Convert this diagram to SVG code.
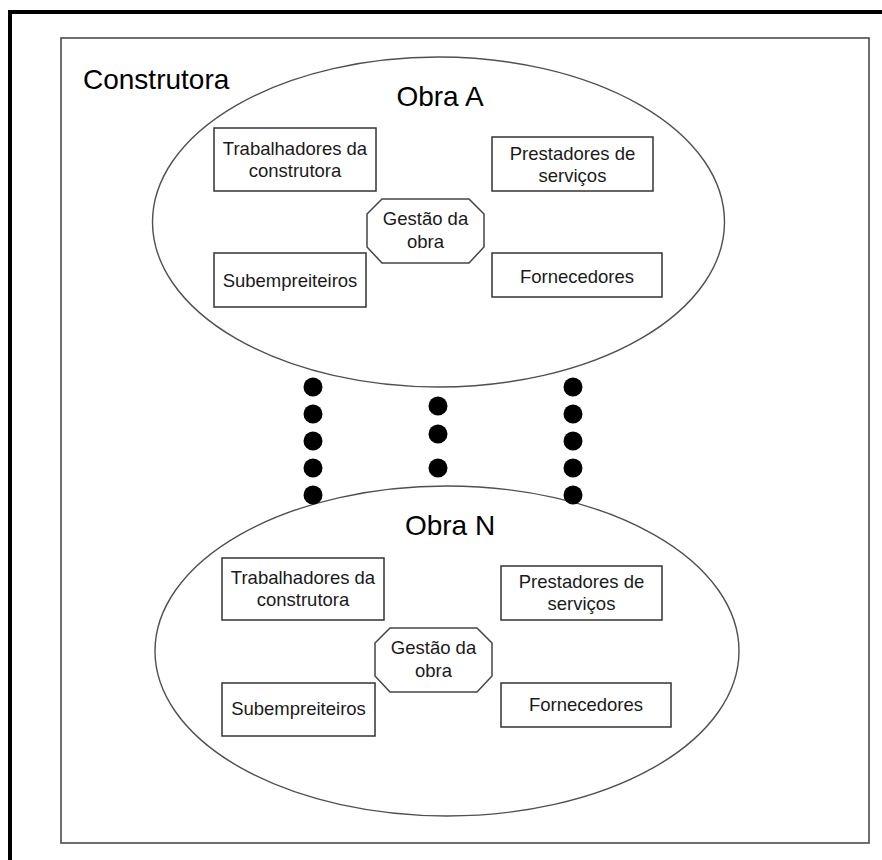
<svg xmlns="http://www.w3.org/2000/svg" width="882" height="860" viewBox="0 0 882 860">
<style>
.frame{fill:none;stroke:#000;stroke-width:4}
.inner{fill:#fff;stroke:#4a4a4a;stroke-width:1.6}
.obra{fill:#fff;stroke:#505050;stroke-width:1.4}
.box{fill:#fff;stroke:#333;stroke-width:1.5}
.oct{fill:#fff;stroke:#444;stroke-width:1.5}
.title{font-family:"Liberation Sans",Arial,sans-serif;font-size:28px;fill:#000}
.lbl{font-family:"Liberation Sans",Arial,sans-serif;font-size:18.5px;fill:#1a1a1a;text-anchor:middle}
.dot{fill:#000}
</style>
<defs>
<polygon id="octA" points="15,0 102,0 117,15 117,48 102,64 15,64 0,48 0,15"/>
</defs>
<rect width="882" height="860" fill="#fff"/>
<path class="frame" d="M10,864 V12 H886"/>
<g id="construtora">
<rect class="inner" x="61" y="38" width="808" height="805"/>
<text class="title" x="83" y="89">Construtora</text>
</g>
<g id="obra-a">
<ellipse class="obra" cx="438.5" cy="222" rx="286" ry="165"/>
<text class="title" x="440" y="106" text-anchor="middle">Obra A</text>
</g>
<g id="a-trabalhadores">
<rect class="box" x="214" y="128" width="162" height="63"/>
<text class="lbl" x="295" y="155">Trabalhadores da</text>
<text class="lbl" x="295" y="177">construtora</text>
</g>
<g id="a-prestadores">
<rect class="box" x="492" y="137" width="161" height="54"/>
<text class="lbl" x="572.5" y="160">Prestadores de</text>
<text class="lbl" x="572.5" y="182">serviços</text>
</g>
<g id="a-gestao">
<use href="#octA" class="oct" x="367" y="199"/>
<text class="lbl" x="425.5" y="225">Gestão da</text>
<text class="lbl" x="425.5" y="248">obra</text>
</g>
<g id="a-subempreiteiros">
<rect class="box" x="214" y="253" width="152" height="54"/>
<text class="lbl" x="290" y="287">Subempreiteiros</text>
</g>
<g id="a-fornecedores">
<rect class="box" x="492" y="253" width="170" height="44"/>
<text class="lbl" x="577" y="283">Fornecedores</text>
</g>
<g id="obra-n">
<ellipse class="obra" cx="447" cy="651" rx="292" ry="165"/>
<text class="title" x="450" y="535" text-anchor="middle">Obra N</text>
</g>
<g id="n-trabalhadores">
<rect class="box" x="222" y="558" width="162" height="62"/>
<text class="lbl" x="303" y="584">Trabalhadores da</text>
<text class="lbl" x="303" y="606">construtora</text>
</g>
<g id="n-prestadores">
<rect class="box" x="501" y="566" width="161" height="54"/>
<text class="lbl" x="581.5" y="588">Prestadores de</text>
<text class="lbl" x="581.5" y="610">serviços</text>
</g>
<g id="n-gestao">
<use href="#octA" class="oct" x="375" y="628"/>
<text class="lbl" x="433.5" y="654">Gestão da</text>
<text class="lbl" x="433.5" y="677">obra</text>
</g>
<g id="n-subempreiteiros">
<rect class="box" x="222" y="683" width="153" height="53"/>
<text class="lbl" x="298.5" y="715">Subempreiteiros</text>
</g>
<g id="n-fornecedores">
<rect class="box" x="501" y="683" width="170" height="44"/>
<text class="lbl" x="586" y="711">Fornecedores</text>
</g>
<g id="ellipsis-dots">
<circle class="dot" cx="313" cy="387" r="9.5"/>
<circle class="dot" cx="313" cy="414" r="9.5"/>
<circle class="dot" cx="313" cy="441" r="9.5"/>
<circle class="dot" cx="313" cy="468" r="9.5"/>
<circle class="dot" cx="313" cy="495" r="9.5"/>
<circle class="dot" cx="438" cy="406" r="9.5"/>
<circle class="dot" cx="438" cy="434" r="9.5"/>
<circle class="dot" cx="438" cy="468" r="9.5"/>
<circle class="dot" cx="573" cy="387" r="9.5"/>
<circle class="dot" cx="573" cy="414" r="9.5"/>
<circle class="dot" cx="573" cy="441" r="9.5"/>
<circle class="dot" cx="573" cy="468" r="9.5"/>
<circle class="dot" cx="573" cy="495" r="9.5"/>
</g>
</svg>
